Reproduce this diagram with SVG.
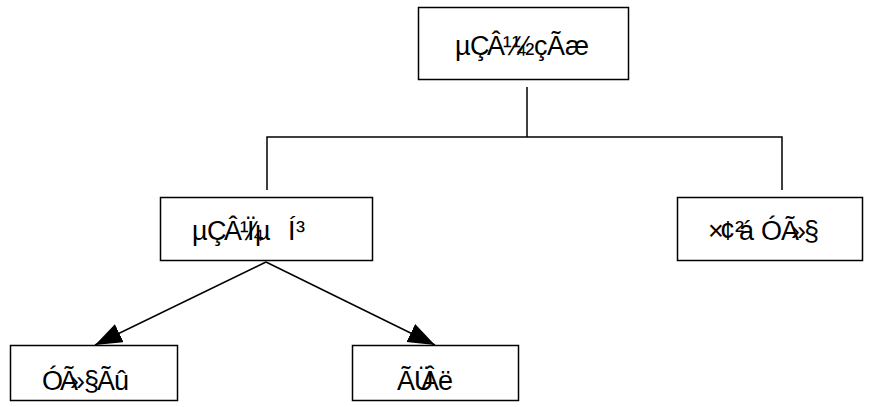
<svg xmlns="http://www.w3.org/2000/svg" width="879" height="407" viewBox="0 0 879 407">
  <style>
    .box { fill: #ffffff; stroke: #000000; stroke-width: 1.5; }
    .lbl { font-family: "Liberation Sans", Arial, sans-serif; font-size: 27px; fill: #000000; }
    .wire { fill: none; stroke: #000000; stroke-width: 1.5; }
  </style>
  <defs>
    <marker id="arrow" markerUnits="userSpaceOnUse" markerWidth="30" markerHeight="22" refX="27" refY="10" orient="auto">
      <path d="M0,0 L27,10 L0,20 Z" fill="#000000"/>
    </marker>
  </defs>
  <rect width="879" height="407" fill="#ffffff"/>

  <g id="connectors">
    <path class="wire" d="M527,87 V137 M267,190 V137 H782 V190"/>
    <line class="wire" x1="266" y1="262" x2="95" y2="345" marker-end="url(#arrow)"/>
    <line class="wire" x1="266" y1="262" x2="435" y2="345" marker-end="url(#arrow)"/>
  </g>

  <g id="node-root">
    <rect class="box" x="418.5" y="7.5" width="210" height="72"/>
    <text class="lbl" x="455 470 487 503 512 534 547 565" y="55">µÇÂ¼½çÃæ</text>
  </g>

  <g id="node-system">
    <rect class="box" x="160.5" y="197.5" width="212" height="63"/>
    <text class="lbl" x="192 207 224 240 247 255 288 296" y="240">µÇÂ¼ÏµÍ³</text>
  </g>

  <g id="node-register">
    <rect class="box" x="677.5" y="197.5" width="185" height="63"/>
    <text class="lbl" x="708 720 735 739 761 781 791 804" y="240">×¢²áÓÃ»§</text>
  </g>

  <g id="node-username">
    <rect class="box" x="10.5" y="345.5" width="167" height="55"/>
    <text class="lbl" x="42 60 70 84 97 114" y="390">ÓÃ»§Ãû</text>
  </g>

  <g id="node-password">
    <rect class="box" x="352.5" y="345.5" width="166" height="55"/>
    <text class="lbl" x="397 414 421 438" y="390">ÃÜÂë</text>
  </g>
</svg>
